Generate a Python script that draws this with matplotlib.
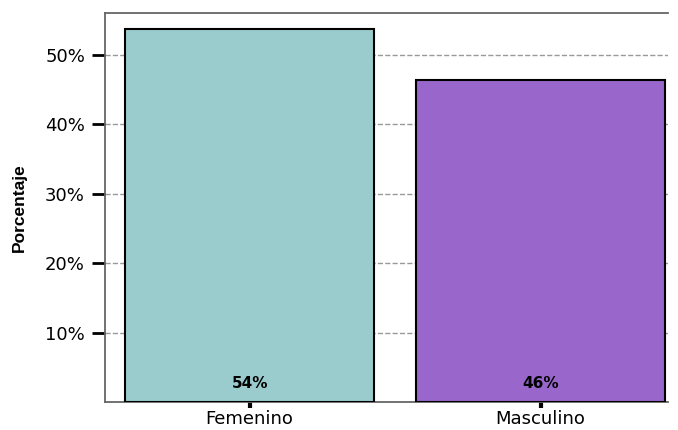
import matplotlib.pyplot as plt
import numpy as np

categorias = ['Femenino', 'Masculino']
porcentajes = [53.7, 46.3]
etiquetas = ['54%', '46%']
colores = ['#9acccd', '#9966cc']

fig = plt.figure(figsize=(6.78, 4.30), dpi=100)
ax = fig.add_axes([105/678, 28/430, 563/678, 389/430])

x = np.arange(len(categorias))
ax.bar(x, porcentajes, width=0.856, color=colores, edgecolor='black', linewidth=1.5, zorder=3)

for xi, lab in zip(x, etiquetas):
    ax.text(xi, 2.7, lab, ha='center', va='center', fontsize=11, fontweight='bold',
            family='DejaVu Sans', zorder=4)

ax.set_xlim(-0.497, 1.438)
ax.set_ylim(0, 56)
ax.set_yticks([10, 20, 30, 40, 50])
ax.set_yticklabels(['10%', '20%', '30%', '40%', '50%'], fontsize=13, family='DejaVu Sans')
ax.set_xticks(x)
ax.set_xticklabels(categorias, fontsize=13, family='DejaVu Sans')

ax.grid(axis='y', linestyle='--', color='#999999', linewidth=1, zorder=0)
ax.tick_params(axis='y', length=9.4, width=2, color='black', pad=5)
ax.tick_params(axis='x', length=4.3, width=3, color='black', pad=1.5)

for s in ['left', 'top', 'bottom']:
    ax.spines[s].set_color('#666666')
    ax.spines[s].set_linewidth(1.3)
ax.spines['right'].set_visible(False)

ax.set_ylabel('Porcentaje', fontsize=12.5, fontweight='bold', family='Liberation Sans')
ax.yaxis.set_label_coords(-78/563, 0.5)

fig.savefig('out.png', dpi=100)
